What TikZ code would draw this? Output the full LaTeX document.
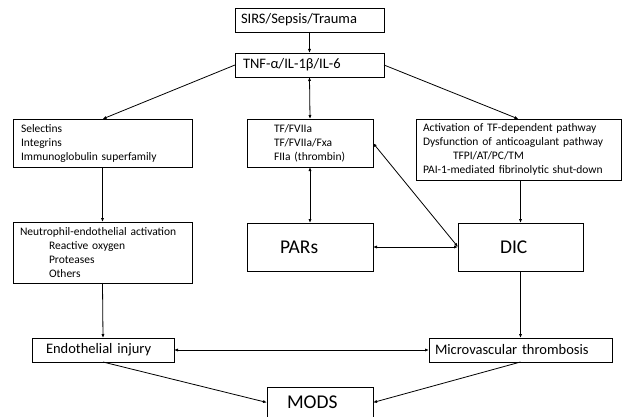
\documentclass[tikz,border=0pt]{standalone}
\usepackage{fontspec}
\setmainfont{Carlito}
\usetikzlibrary{arrows.meta}
\newcommand{\smalltxt}{\fontsize{11.5}{14}\selectfont}
\newcommand{\midtxt}{\fontsize{14.5}{17}\selectfont}
\newcommand{\bigtxt}{\fontsize{19.5}{23}\selectfont}
\begin{document}
\begin{tikzpicture}[x=1pt, y=-1pt,
	box/.style={draw, line width=0.9pt, anchor=north west, align=left,
		inner ysep=0pt, outer sep=0pt},
	link/.style={line width=0.8pt, -{Latex[length=4pt,width=3.2pt]}},
	both/.style={line width=0.8pt, {Latex[length=4pt,width=3.2pt]}-{Latex[length=4pt,width=3.2pt]}}]
\useasboundingbox (0,0) rectangle (623,417);
\clip (0,0) rectangle (623,417);
\node[box, font=\midtxt, inner xsep=6pt, text width=137pt, minimum height=24pt]
	(sirs) at (235,8) {SIRS/Sepsis/Trauma};
\node[box, font=\midtxt, inner xsep=8pt, text width=133pt, minimum height=24pt]
	(tnf) at (235,53) {TNF-α/IL-1β/IL-6};
\node[box, font=\smalltxt, inner xsep=8pt, text width=163pt, minimum height=48pt]
	(sel) at (13,119) {Selectins\\Integrins\\Immunoglobulin superfamily};
\node[box, font=\smalltxt, inner xsep=27pt, text width=72pt, minimum height=48pt]
	(tf) at (247,119) {TF/FVIIa\\TF/FVIIa/Fxa\\FIIa (thrombin)};
\node[box, font=\smalltxt, inner xsep=7pt, text width=191pt, minimum height=61pt]
	(act) at (416,119) {Activation of TF-dependent pathway\\
	Dysfunction of anticoagulant pathway\\
	\hspace*{30pt}TFPI/AT/PC/TM\\
	PAI-1-mediated fibrinolytic shut-down};
\node[box, font=\smalltxt, inner xsep=7pt, text width=165pt, minimum height=61pt]
	(neu) at (13,222) {Neutrophil-endothelial activation\\
	\hspace*{29pt}Reactive oxygen\\
	\hspace*{29pt}Proteases\\
	\hspace*{29pt}Others};
\node[box, font=\bigtxt, inner xsep=33pt, text width=60pt, minimum height=48pt]
	(pars) at (247,223) {PARs};
\node[box, font=\bigtxt, inner xsep=42pt, text width=41pt, minimum height=48pt]
	(dic) at (458,223) {DIC};
\node[box, font=\midtxt, inner xsep=14pt, text width=114pt, minimum height=24pt]
	(endo) at (32,338) {Endothelial injury};
\node[box, font=\midtxt, inner xsep=6pt, text width=171pt, minimum height=24pt]
	(micro) at (429,338) {Microvascular thrombosis};
\node[box, font=\bigtxt, inner xsep=20pt, text width=66pt, minimum height=31pt]
	(mods) at (267,387) {MODS};
\foreach \a/\b in {sirs/tnf, sel/neu, neu/endo, dic/micro}
	\draw[link] (\a.south) -- (\b.north);
\draw[link] (tnf.west) -- (sel.north);
\draw[link] (tnf.east) -- (act.north);
\draw[link] (dic.north |- act.south) -- (dic.north);
\draw[both] (tnf.south) -- (tf.north);
\draw[both] (tf.south) -- (pars.north);
\draw (dic.west)
	edge[both] (tf.east)
	edge[both] (pars.east);
\draw[both] (endo.east) -- (micro.west);
\draw[link] (endo.south) -- (mods.west);
\draw[link] (micro.south) -- (mods.east);
\end{tikzpicture}
\end{document}
